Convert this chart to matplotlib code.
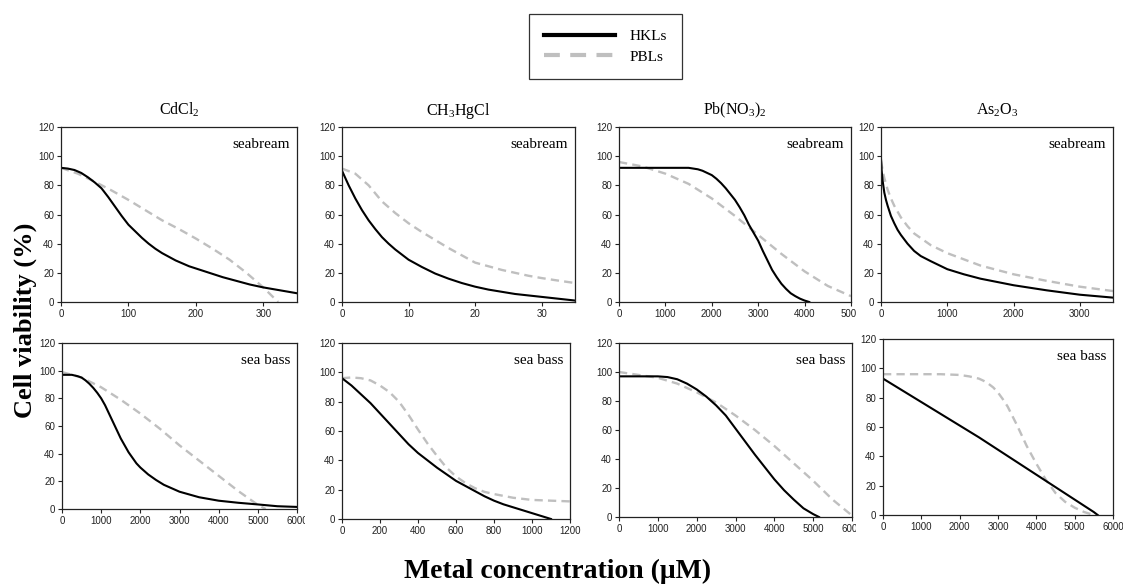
import numpy as np
import matplotlib
matplotlib.use('Agg')
import matplotlib.pyplot as plt
from matplotlib.lines import Line2D
from matplotlib.transforms import Bbox

plt.rcParams['font.family'] = ['Liberation Serif', 'DejaVu Serif']
plt.rcParams['mathtext.fontset'] = 'custom'
plt.rcParams['mathtext.rm'] = 'Liberation Serif'
plt.rcParams['mathtext.it'] = 'Liberation Serif:italic'

# ---- data ----
metals = ['CdCl$_2$', 'CH$_3$HgCl', 'Pb(NO$_3$)$_2$', 'As$_2$O$_3$']
species = ['seabream', 'sea bass']

# seabream, CdCl2
cd_sbr_hkl_x = [0, 10, 20, 30, 40, 50, 60, 70, 80, 90, 100, 110, 120, 130, 140, 150, 160, 170, 180, 190,
                200, 220, 240, 260, 280, 300, 325, 350]
cd_sbr_hkl = [92, 91.5, 90.5, 88.5, 85.5, 82, 78, 72, 65.5, 59, 53, 48.5, 44, 40, 36.5, 33.5, 31, 28.5,
              26.5, 24.5, 23, 20, 17, 14.5, 12, 10, 8, 6]
cd_sbr_pbl_x = [0, 25, 50, 75, 100, 125, 150, 175, 200, 225, 250, 275, 300, 322]
cd_sbr_pbl = [92, 88, 82.5, 76.5, 70, 63, 56, 50, 43.5, 36.5, 29, 20, 10, 0]

# seabream, CH3HgCl
hg_sbr_hkl_x = [0, 1, 2, 3, 4, 5, 6, 7, 8, 10, 12, 14, 16, 18, 20, 22, 24, 26, 28, 30, 32, 34, 35]
hg_sbr_hkl = [90, 80, 71, 63, 56, 50, 44.5, 40, 36, 29, 24, 19.5, 16, 13, 10.5, 8.5, 7, 5.5, 4.5, 3.5, 2.5, 1.5, 1]
hg_sbr_pbl_x = [0, 2, 4, 6, 8, 10, 12, 14, 16, 18, 20, 22, 24, 26, 28, 30, 32, 35]
hg_sbr_pbl = [91.5, 88, 80, 69, 61, 54, 48, 42.5, 37, 32, 27, 24.5, 22, 20, 18, 16.4, 15, 13]

# seabream, Pb(NO3)2
pb_sbr_hkl_x = [0, 500, 1000, 1500, 1600, 1700, 1800, 1900, 2000, 2100, 2200, 2300, 2400, 2500, 2600,
                2700, 2800, 2900, 3000, 3100, 3200, 3300, 3400, 3500, 3600, 3700, 3800, 3900, 4000, 4100]
pb_sbr_hkl = [92, 92, 92, 92, 91.5, 91, 90, 88.5, 87, 84.5, 81.5, 78, 74, 70, 65, 59.5, 53, 47.5, 42,
              35, 28.5, 22, 17, 12.5, 9, 6, 4, 2.3, 1, 0]
pb_sbr_pbl_x = [0, 500, 1000, 1500, 2000, 2500, 3000, 3500, 4000, 4500, 5000]
pb_sbr_pbl = [96, 93, 88, 81, 71, 59, 46, 33, 21, 11, 4]

# seabream, As2O3
as_sbr_hkl_x = [0, 10, 25, 50, 75, 100, 150, 200, 250, 300, 400, 500, 600, 750, 1000, 1250, 1500,
                2000, 2500, 3000, 3500]
as_sbr_hkl = [98, 90, 83, 75, 70, 66, 59, 54, 49.5, 46, 40, 35, 31.5, 28, 22.5, 19, 16, 11.5, 8, 5, 3]
as_sbr_pbl_x = [0, 25, 50, 100, 150, 200, 300, 400, 500, 750, 1000, 1500, 2000, 2500, 3000, 3500]
as_sbr_pbl = [97, 90, 85, 77, 71, 66, 58, 52, 47, 39, 33.5, 25, 19, 14.5, 10.5, 7.5]

# sea bass, CdCl2
cd_sb_hkl_x = [0, 250, 400, 500, 600, 700, 800, 900, 1000, 1100, 1200, 1300, 1400, 1500, 1600, 1700,
               1800, 1900, 2000, 2200, 2400, 2600, 2800, 3000, 3500, 4000, 4500, 5000, 5500, 6000]
cd_sb_hkl = [97, 97, 96, 95, 93, 90.5, 87.5, 84, 80, 75, 69, 63, 57, 51, 46, 41, 37, 33, 30, 25, 21,
             17.5, 15, 12.5, 8.5, 6, 4.5, 3.3, 2, 1.5]
cd_sb_pbl_x = [0, 500, 1000, 1500, 2000, 2500, 3000, 3500, 4000, 4500, 5000, 5200]
cd_sb_pbl = [99, 95, 88, 79, 69, 58, 46, 35, 24, 13, 3, 0]

# sea bass, CH3HgCl
hg_sb_hkl_x = [0, 50, 100, 150, 200, 250, 300, 350, 400, 450, 500, 550, 600, 650, 700, 750, 800, 850,
               900, 950, 1000, 1050, 1100]
hg_sb_hkl = [96, 91, 85, 79, 72, 65, 58, 51, 45, 40, 35, 30.5, 26, 22.5, 19, 15.5, 12.5, 10, 8, 6, 4, 2, 0]
hg_sb_pbl_x = [0, 50, 100, 150, 200, 250, 300, 350, 400, 450, 500, 550, 600, 650, 700, 750, 800, 900,
               1000, 1100, 1200]
hg_sb_pbl = [96, 96.5, 96, 94.5, 91, 86.5, 80, 71, 61, 51.5, 43, 35, 29, 24.5, 21, 18.5, 17, 14.5, 13, 12.5, 12]

# sea bass, Pb(NO3)2
pb_sb_hkl_x = [0, 500, 1000, 1250, 1500, 1750, 2000, 2250, 2500, 2750, 3000, 3250, 3500, 3750, 4000,
               4250, 4500, 4750, 5000, 5150]
pb_sb_hkl = [97, 97, 97, 96.5, 95, 92, 88, 83, 77, 70, 61, 52, 43, 34.5, 26, 18.5, 12, 6, 2, 0]
pb_sb_pbl_x = [0, 500, 1000, 1500, 2000, 2500, 3000, 3500, 4000, 4500, 5000, 5500, 6000]
pb_sb_pbl = [100, 98, 96, 92, 86, 79, 70, 60, 49, 37, 25, 12, 1]

# sea bass, As2O3
as_sb_hkl_x = [0, 500, 1000, 1500, 2000, 2500, 3000, 3500, 4000, 4500, 5000, 5500, 5600]
as_sb_hkl = [93, 85, 77, 69, 61, 53, 44.5, 36, 27.5, 19, 10.5, 2, 0]
as_sb_pbl_x = [0, 500, 1000, 1500, 2000, 2250, 2500, 2625, 2750, 2875, 3000, 3125, 3250, 3375, 3500,
               3625, 3750, 3875, 4000, 4250, 4500, 4750, 5000, 5250, 5500]
as_sb_pbl = [96, 96, 96, 96, 95.5, 94.5, 93, 91.5, 89.5, 87, 83.5, 79, 74, 67.5, 61, 54, 47, 41, 35,
             24, 15, 9, 5, 2, 0]

x_limits = [[350, 35, 5000, 3500], [6000, 1200, 6000, 6000]]
x_ticks = [[[0, 100, 200, 300], [0, 10, 20, 30], [0, 1000, 2000, 3000, 4000, 5000], [0, 1000, 2000, 3000]],
           [[0, 1000, 2000, 3000, 4000, 5000, 6000], [0, 200, 400, 600, 800, 1000, 1200],
            [0, 1000, 2000, 3000, 4000, 5000, 6000], [0, 1000, 2000, 3000, 4000, 5000, 6000]]]
y_ticks = [0, 20, 40, 60, 80, 100, 120]

series = [
    [(cd_sbr_hkl_x, cd_sbr_hkl, cd_sbr_pbl_x, cd_sbr_pbl),
     (hg_sbr_hkl_x, hg_sbr_hkl, hg_sbr_pbl_x, hg_sbr_pbl),
     (pb_sbr_hkl_x, pb_sbr_hkl, pb_sbr_pbl_x, pb_sbr_pbl),
     (as_sbr_hkl_x, as_sbr_hkl, as_sbr_pbl_x, as_sbr_pbl)],
    [(cd_sb_hkl_x, cd_sb_hkl, cd_sb_pbl_x, cd_sb_pbl),
     (hg_sb_hkl_x, hg_sb_hkl, hg_sb_pbl_x, hg_sb_pbl),
     (pb_sb_hkl_x, pb_sb_hkl, pb_sb_pbl_x, pb_sb_pbl),
     (as_sb_hkl_x, as_sb_hkl, as_sb_pbl_x, as_sb_pbl)],
]

# panel boxes in pixels: left, right, top, bottom
boxes = [[(61, 297, 127, 302), (342, 575, 127, 302), (619, 851, 127, 302), (881, 1113, 127, 302)],
         [(62, 297, 343, 509), (342, 570, 343, 519), (619, 852, 343, 517), (883, 1113, 339, 515)]]
# right edge of each sub-image (tick labels beyond are cut)
clip_right = [[305, 582, 856, 1123], [305, 582, 856, 1123]]

W, H = 1123, 585
fig = plt.figure(figsize=(W / 100, H / 100), dpi=100)

pbl_color = '#BFBFBF'
for r in range(2):
    for c in range(4):
        l, rr, t, b = boxes[r][c]
        ax = fig.add_axes([l / W, 1 - b / H, (rr - l) / W, (b - t) / H])
        hx, hy, px, py = series[r][c]
        ax.plot(px, py, color=pbl_color, lw=1.7, dashes=(3.5, 2.2), solid_capstyle='butt')
        ax.plot(hx, hy, color='black', lw=1.5, solid_joinstyle='round')
        ax.set_xlim(0, x_limits[r][c])
        ax.set_ylim(0, 120)
        ax.set_xticks(x_ticks[r][c])
        ax.set_yticks(y_ticks)
        ax.tick_params(direction='out', length=3, width=0.8, labelsize=7, pad=2,
                       colors='#222222', labelfontfamily='Liberation Sans')
        for s in ax.spines.values():
            s.set_linewidth(0.9)
            s.set_color('#222222')
        ax.annotate(species[r], xy=(1, 1), xycoords='axes fraction', xytext=(-5, -12.5),
                    textcoords='offset points', ha='right', va='center', fontsize=11)
        if r == 0:
            ax.set_title(metals[c], fontsize=11.5, pad=9)
        cb = Bbox([[0, 0], [clip_right[r][c], H]])
        for lab in ax.get_xticklabels():
            lab.set_clip_on(True)
            lab.set_clip_box(cb)

fig.text(25 / W, 1 - 320 / H, 'Cell viability (%)', rotation=90, ha='center', va='center',
         fontsize=19, fontweight='bold')
fig.text(558 / W, 1 - 578 / H, 'Metal concentration (\u03bcM)', ha='center', va='baseline',
         fontsize=20, fontweight='bold')

handles = [Line2D([], [], color='black', lw=3),
           Line2D([], [], color=pbl_color, lw=3, dashes=(3.8, 2.5))]
leg = fig.legend(handles, ['HKLs', 'PBLs'], loc='upper left',
                 bbox_to_anchor=(529 / W, 1 - 14 / H), fontsize=11, frameon=True,
                 fancybox=False, edgecolor='black', handlelength=4.6, handletextpad=1.0,
                 borderpad=1.0, labelspacing=0.45, borderaxespad=0)
leg.get_frame().set_linewidth(0.9)

fig.savefig('out.png', dpi=100)
